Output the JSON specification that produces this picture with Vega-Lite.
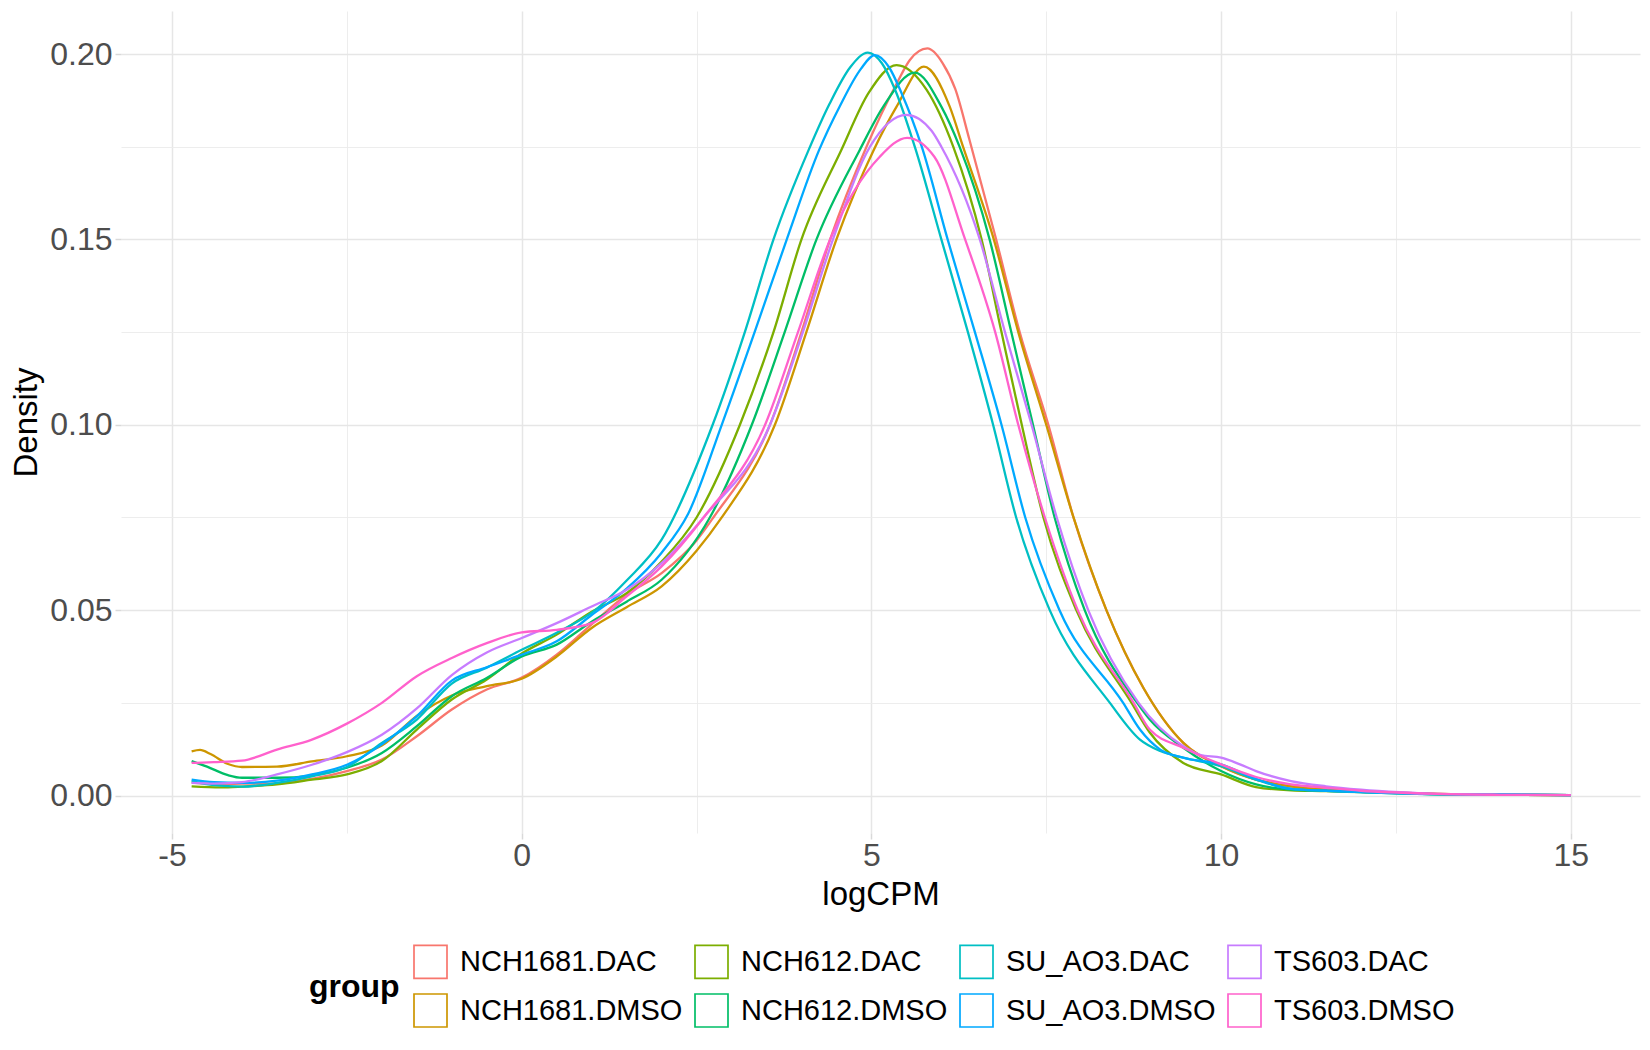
{
  "$schema": "https://vega.github.io/schema/vega-lite/v6.json",
  "width": 1519,
  "height": 822,
  "autosize": {"type": "none"},
  "padding": {"left": 121, "top": 11, "right": 10, "bottom": 217},
  "background": "white",
  "config": {"view": {"stroke": null}, "font": "Liberation Sans"},
  "datasets": {
    "curves": [
      {"g":"NCH1681.DAC","x":-4.72,"d":0.0035},{"g":"NCH1681.DAC","x":-4.3,"d":0.0031},{"g":"NCH1681.DAC","x":-4,"d":0.0032},{"g":"NCH1681.DAC","x":-3.5,"d":0.0033},{"g":"NCH1681.DAC","x":-3,"d":0.0045},{"g":"NCH1681.DAC","x":-2.5,"d":0.0066},{"g":"NCH1681.DAC","x":-2,"d":0.0097},{"g":"NCH1681.DAC","x":-1.5,"d":0.016},{"g":"NCH1681.DAC","x":-1,"d":0.0232},{"g":"NCH1681.DAC","x":-0.5,"d":0.0286},{"g":"NCH1681.DAC","x":0,"d":0.0318},{"g":"NCH1681.DAC","x":0.5,"d":0.038},{"g":"NCH1681.DAC","x":1,"d":0.0462},{"g":"NCH1681.DAC","x":1.5,"d":0.0542},{"g":"NCH1681.DAC","x":2,"d":0.06},{"g":"NCH1681.DAC","x":2.5,"d":0.0688},{"g":"NCH1681.DAC","x":2.74,"d":0.075},{"g":"NCH1681.DAC","x":3.55,"d":0.1},{"g":"NCH1681.DAC","x":4.0,"d":0.125},{"g":"NCH1681.DAC","x":4.41,"d":0.15},{"g":"NCH1681.DAC","x":4.93,"d":0.175},{"g":"NCH1681.DAC","x":5.36,"d":0.192},{"g":"NCH1681.DAC","x":5.55,"d":0.1984},{"g":"NCH1681.DAC","x":5.8,"d":0.2015},{"g":"NCH1681.DAC","x":6.02,"d":0.1975},{"g":"NCH1681.DAC","x":6.2,"d":0.1905},{"g":"NCH1681.DAC","x":6.4,"d":0.177},{"g":"NCH1681.DAC","x":6.77,"d":0.151},{"g":"NCH1681.DAC","x":7.12,"d":0.125},{"g":"NCH1681.DAC","x":7.53,"d":0.1},{"g":"NCH1681.DAC","x":7.89,"d":0.075},{"g":"NCH1681.DAC","x":8.36,"d":0.05},{"g":"NCH1681.DAC","x":8.89,"d":0.029},{"g":"NCH1681.DAC","x":9.46,"d":0.0142},{"g":"NCH1681.DAC","x":10,"d":0.0079},{"g":"NCH1681.DAC","x":10.5,"d":0.0043},{"g":"NCH1681.DAC","x":11,"d":0.0025},{"g":"NCH1681.DAC","x":11.5,"d":0.0016},{"g":"NCH1681.DAC","x":12,"d":0.0012},{"g":"NCH1681.DAC","x":12.5,"d":0.0008},{"g":"NCH1681.DAC","x":13,"d":0.0005},{"g":"NCH1681.DAC","x":14,"d":0.0002},{"g":"NCH1681.DAC","x":15,"d":0.0001},

      {"g":"NCH1681.DMSO","x":-4.72,"d":0.0119},{"g":"NCH1681.DMSO","x":-4.6,"d":0.0123},{"g":"NCH1681.DMSO","x":-4.45,"d":0.0112},{"g":"NCH1681.DMSO","x":-4.2,"d":0.0085},{"g":"NCH1681.DMSO","x":-4,"d":0.0077},{"g":"NCH1681.DMSO","x":-3.5,"d":0.0078},{"g":"NCH1681.DMSO","x":-3,"d":0.0092},{"g":"NCH1681.DMSO","x":-2.5,"d":0.0106},{"g":"NCH1681.DMSO","x":-2,"d":0.0135},{"g":"NCH1681.DMSO","x":-1.5,"d":0.0215},{"g":"NCH1681.DMSO","x":-1,"d":0.027},{"g":"NCH1681.DMSO","x":-0.5,"d":0.0295},{"g":"NCH1681.DMSO","x":0,"d":0.0315},{"g":"NCH1681.DMSO","x":0.5,"d":0.0375},{"g":"NCH1681.DMSO","x":1,"d":0.0452},{"g":"NCH1681.DMSO","x":1.5,"d":0.0508},{"g":"NCH1681.DMSO","x":2,"d":0.0564},{"g":"NCH1681.DMSO","x":2.5,"d":0.066},{"g":"NCH1681.DMSO","x":2.86,"d":0.075},{"g":"NCH1681.DMSO","x":3.62,"d":0.1},{"g":"NCH1681.DMSO","x":4.07,"d":0.125},{"g":"NCH1681.DMSO","x":4.5,"d":0.15},{"g":"NCH1681.DMSO","x":5.03,"d":0.174},{"g":"NCH1681.DMSO","x":5.36,"d":0.1858},{"g":"NCH1681.DMSO","x":5.75,"d":0.1966},{"g":"NCH1681.DMSO","x":6.12,"d":0.1858},{"g":"NCH1681.DMSO","x":6.31,"d":0.175},{"g":"NCH1681.DMSO","x":6.75,"d":0.15},{"g":"NCH1681.DMSO","x":7.1,"d":0.125},{"g":"NCH1681.DMSO","x":7.5,"d":0.1},{"g":"NCH1681.DMSO","x":7.89,"d":0.075},{"g":"NCH1681.DMSO","x":8.36,"d":0.05},{"g":"NCH1681.DMSO","x":8.89,"d":0.029},{"g":"NCH1681.DMSO","x":9.46,"d":0.0142},{"g":"NCH1681.DMSO","x":10,"d":0.0079},{"g":"NCH1681.DMSO","x":10.5,"d":0.0043},{"g":"NCH1681.DMSO","x":11,"d":0.0025},{"g":"NCH1681.DMSO","x":11.5,"d":0.0016},{"g":"NCH1681.DMSO","x":12,"d":0.0012},{"g":"NCH1681.DMSO","x":12.5,"d":0.0008},{"g":"NCH1681.DMSO","x":13,"d":0.0005},{"g":"NCH1681.DMSO","x":14,"d":0.0002},{"g":"NCH1681.DMSO","x":15,"d":0.0001},

      {"g":"NCH612.DAC","x":-4.72,"d":0.0025},{"g":"NCH612.DAC","x":-4.3,"d":0.0022},{"g":"NCH612.DAC","x":-4,"d":0.0024},{"g":"NCH612.DAC","x":-3.5,"d":0.003},{"g":"NCH612.DAC","x":-3,"d":0.0043},{"g":"NCH612.DAC","x":-2.5,"d":0.0057},{"g":"NCH612.DAC","x":-2,"d":0.0093},{"g":"NCH612.DAC","x":-1.5,"d":0.0178},{"g":"NCH612.DAC","x":-1,"d":0.0259},{"g":"NCH612.DAC","x":-0.5,"d":0.0313},{"g":"NCH612.DAC","x":0,"d":0.0383},{"g":"NCH612.DAC","x":0.5,"d":0.0434},{"g":"NCH612.DAC","x":1,"d":0.0496},{"g":"NCH612.DAC","x":1.5,"d":0.0546},{"g":"NCH612.DAC","x":2,"d":0.0631},{"g":"NCH612.DAC","x":2.5,"d":0.075},{"g":"NCH612.DAC","x":3.12,"d":0.1},{"g":"NCH612.DAC","x":3.6,"d":0.125},{"g":"NCH612.DAC","x":4.0,"d":0.15},{"g":"NCH612.DAC","x":4.57,"d":0.1741},{"g":"NCH612.DAC","x":4.96,"d":0.1895},{"g":"NCH612.DAC","x":5.36,"d":0.197},{"g":"NCH612.DAC","x":5.79,"d":0.1903},{"g":"NCH612.DAC","x":6.17,"d":0.175},{"g":"NCH612.DAC","x":6.575,"d":0.15},{"g":"NCH612.DAC","x":6.86,"d":0.125},{"g":"NCH612.DAC","x":7.15,"d":0.1},{"g":"NCH612.DAC","x":7.46,"d":0.075},{"g":"NCH612.DAC","x":7.93,"d":0.05},{"g":"NCH612.DAC","x":8.72,"d":0.025},{"g":"NCH612.DAC","x":8.98,"d":0.017},{"g":"NCH612.DAC","x":9.46,"d":0.0088},{"g":"NCH612.DAC","x":10,"d":0.0057},{"g":"NCH612.DAC","x":10.5,"d":0.0023},{"g":"NCH612.DAC","x":11,"d":0.0014},{"g":"NCH612.DAC","x":11.5,"d":0.0012},{"g":"NCH612.DAC","x":12,"d":0.0009},{"g":"NCH612.DAC","x":13,"d":0.0004},{"g":"NCH612.DAC","x":14,"d":0.0002},{"g":"NCH612.DAC","x":15,"d":0.0001},

      {"g":"NCH612.DMSO","x":-4.72,"d":0.0093},{"g":"NCH612.DMSO","x":-4.5,"d":0.0078},{"g":"NCH612.DMSO","x":-4.2,"d":0.0055},{"g":"NCH612.DMSO","x":-4,"d":0.0048},{"g":"NCH612.DMSO","x":-3.5,"d":0.0048},{"g":"NCH612.DMSO","x":-3,"d":0.0054},{"g":"NCH612.DMSO","x":-2.5,"d":0.0075},{"g":"NCH612.DMSO","x":-2,"d":0.0115},{"g":"NCH612.DMSO","x":-1.5,"d":0.0187},{"g":"NCH612.DMSO","x":-1,"d":0.0268},{"g":"NCH612.DMSO","x":-0.5,"d":0.0317},{"g":"NCH612.DMSO","x":0,"d":0.0375},{"g":"NCH612.DMSO","x":0.5,"d":0.0407},{"g":"NCH612.DMSO","x":1,"d":0.0469},{"g":"NCH612.DMSO","x":1.5,"d":0.0523},{"g":"NCH612.DMSO","x":2,"d":0.0582},{"g":"NCH612.DMSO","x":2.69,"d":0.075},{"g":"NCH612.DMSO","x":3.29,"d":0.1},{"g":"NCH612.DMSO","x":3.76,"d":0.125},{"g":"NCH612.DMSO","x":4.215,"d":0.15},{"g":"NCH612.DMSO","x":4.83,"d":0.174},{"g":"NCH612.DMSO","x":5.17,"d":0.1858},{"g":"NCH612.DMSO","x":5.62,"d":0.195},{"g":"NCH612.DMSO","x":6.0,"d":0.1858},{"g":"NCH612.DMSO","x":6.26,"d":0.175},{"g":"NCH612.DMSO","x":6.69,"d":0.15},{"g":"NCH612.DMSO","x":7.0,"d":0.125},{"g":"NCH612.DMSO","x":7.31,"d":0.1},{"g":"NCH612.DMSO","x":7.62,"d":0.075},{"g":"NCH612.DMSO","x":8.05,"d":0.05},{"g":"NCH612.DMSO","x":8.8,"d":0.025},{"g":"NCH612.DMSO","x":8.98,"d":0.0205},{"g":"NCH612.DMSO","x":9.46,"d":0.0129},{"g":"NCH612.DMSO","x":10,"d":0.0066},{"g":"NCH612.DMSO","x":10.5,"d":0.003},{"g":"NCH612.DMSO","x":11,"d":0.0016},{"g":"NCH612.DMSO","x":11.5,"d":0.0013},{"g":"NCH612.DMSO","x":12,"d":0.001},{"g":"NCH612.DMSO","x":13,"d":0.0004},{"g":"NCH612.DMSO","x":14,"d":0.0002},{"g":"NCH612.DMSO","x":15,"d":0.0001},

      {"g":"SU_AO3.DAC","x":-4.72,"d":0.0039},{"g":"SU_AO3.DAC","x":-4.4,"d":0.0028},{"g":"SU_AO3.DAC","x":-4,"d":0.0024},{"g":"SU_AO3.DAC","x":-3.5,"d":0.0034},{"g":"SU_AO3.DAC","x":-3,"d":0.0052},{"g":"SU_AO3.DAC","x":-2.5,"d":0.0077},{"g":"SU_AO3.DAC","x":-2,"d":0.0142},{"g":"SU_AO3.DAC","x":-1.5,"d":0.0205},{"g":"SU_AO3.DAC","x":-1,"d":0.0302},{"g":"SU_AO3.DAC","x":-0.5,"d":0.0345},{"g":"SU_AO3.DAC","x":0,"d":0.0393},{"g":"SU_AO3.DAC","x":0.5,"d":0.0439},{"g":"SU_AO3.DAC","x":1.05,"d":0.05},{"g":"SU_AO3.DAC","x":1.5,"d":0.058},{"g":"SU_AO3.DAC","x":2,"d":0.069},{"g":"SU_AO3.DAC","x":2.73,"d":0.1},{"g":"SU_AO3.DAC","x":3.19,"d":0.125},{"g":"SU_AO3.DAC","x":3.6,"d":0.15},{"g":"SU_AO3.DAC","x":4.1,"d":0.174},{"g":"SU_AO3.DAC","x":4.4,"d":0.1865},{"g":"SU_AO3.DAC","x":4.7,"d":0.1965},{"g":"SU_AO3.DAC","x":4.95,"d":0.2004},{"g":"SU_AO3.DAC","x":5.15,"d":0.1975},{"g":"SU_AO3.DAC","x":5.34,"d":0.1903},{"g":"SU_AO3.DAC","x":5.62,"d":0.175},{"g":"SU_AO3.DAC","x":6.0,"d":0.15},{"g":"SU_AO3.DAC","x":6.38,"d":0.125},{"g":"SU_AO3.DAC","x":6.74,"d":0.1},{"g":"SU_AO3.DAC","x":7.07,"d":0.075},{"g":"SU_AO3.DAC","x":7.55,"d":0.05},{"g":"SU_AO3.DAC","x":8.41,"d":0.025},{"g":"SU_AO3.DAC","x":8.84,"d":0.0151},{"g":"SU_AO3.DAC","x":9.13,"d":0.012},{"g":"SU_AO3.DAC","x":9.46,"d":0.0102},{"g":"SU_AO3.DAC","x":10,"d":0.0079},{"g":"SU_AO3.DAC","x":10.5,"d":0.0043},{"g":"SU_AO3.DAC","x":11,"d":0.0018},{"g":"SU_AO3.DAC","x":11.5,"d":0.0013},{"g":"SU_AO3.DAC","x":12,"d":0.0009},{"g":"SU_AO3.DAC","x":13,"d":0.0004},{"g":"SU_AO3.DAC","x":14,"d":0.0003},{"g":"SU_AO3.DAC","x":15,"d":0.0001},

      {"g":"SU_AO3.DMSO","x":-4.72,"d":0.0043},{"g":"SU_AO3.DMSO","x":-4.4,"d":0.0036},{"g":"SU_AO3.DMSO","x":-4,"d":0.0034},{"g":"SU_AO3.DMSO","x":-3.5,"d":0.004},{"g":"SU_AO3.DMSO","x":-3,"d":0.0057},{"g":"SU_AO3.DMSO","x":-2.5,"d":0.0083},{"g":"SU_AO3.DMSO","x":-2,"d":0.0138},{"g":"SU_AO3.DMSO","x":-1.5,"d":0.0214},{"g":"SU_AO3.DMSO","x":-1,"d":0.031},{"g":"SU_AO3.DMSO","x":-0.5,"d":0.0346},{"g":"SU_AO3.DMSO","x":0,"d":0.038},{"g":"SU_AO3.DMSO","x":0.5,"d":0.0416},{"g":"SU_AO3.DMSO","x":1,"d":0.0487},{"g":"SU_AO3.DMSO","x":1.5,"d":0.0558},{"g":"SU_AO3.DMSO","x":2,"d":0.0655},{"g":"SU_AO3.DMSO","x":2.38,"d":0.076},{"g":"SU_AO3.DMSO","x":2.86,"d":0.1},{"g":"SU_AO3.DMSO","x":3.33,"d":0.125},{"g":"SU_AO3.DMSO","x":3.79,"d":0.15},{"g":"SU_AO3.DMSO","x":4.25,"d":0.174},{"g":"SU_AO3.DMSO","x":4.55,"d":0.186},{"g":"SU_AO3.DMSO","x":4.85,"d":0.196},{"g":"SU_AO3.DMSO","x":5.05,"d":0.1997},{"g":"SU_AO3.DMSO","x":5.25,"d":0.1965},{"g":"SU_AO3.DMSO","x":5.43,"d":0.1895},{"g":"SU_AO3.DMSO","x":5.72,"d":0.175},{"g":"SU_AO3.DMSO","x":6.09,"d":0.15},{"g":"SU_AO3.DMSO","x":6.48,"d":0.125},{"g":"SU_AO3.DMSO","x":6.86,"d":0.1},{"g":"SU_AO3.DMSO","x":7.2,"d":0.075},{"g":"SU_AO3.DMSO","x":7.69,"d":0.05},{"g":"SU_AO3.DMSO","x":8.6,"d":0.025},{"g":"SU_AO3.DMSO","x":8.84,"d":0.0178},{"g":"SU_AO3.DMSO","x":9.13,"d":0.0124},{"g":"SU_AO3.DMSO","x":9.46,"d":0.0102},{"g":"SU_AO3.DMSO","x":10,"d":0.0084},{"g":"SU_AO3.DMSO","x":10.5,"d":0.0045},{"g":"SU_AO3.DMSO","x":11,"d":0.0018},{"g":"SU_AO3.DMSO","x":11.5,"d":0.0013},{"g":"SU_AO3.DMSO","x":12,"d":0.0009},{"g":"SU_AO3.DMSO","x":13,"d":0.0004},{"g":"SU_AO3.DMSO","x":14,"d":0.0003},{"g":"SU_AO3.DMSO","x":15,"d":0.0001},

      {"g":"TS603.DAC","x":-4.72,"d":0.0034},{"g":"TS603.DAC","x":-4.4,"d":0.0032},{"g":"TS603.DAC","x":-4,"d":0.0036},{"g":"TS603.DAC","x":-3.5,"d":0.0057},{"g":"TS603.DAC","x":-3,"d":0.0083},{"g":"TS603.DAC","x":-2.5,"d":0.0117},{"g":"TS603.DAC","x":-2,"d":0.0164},{"g":"TS603.DAC","x":-1.5,"d":0.0235},{"g":"TS603.DAC","x":-1,"d":0.0325},{"g":"TS603.DAC","x":-0.5,"d":0.0386},{"g":"TS603.DAC","x":0,"d":0.0425},{"g":"TS603.DAC","x":0.5,"d":0.0465},{"g":"TS603.DAC","x":1,"d":0.051},{"g":"TS603.DAC","x":1.5,"d":0.0555},{"g":"TS603.DAC","x":2,"d":0.0627},{"g":"TS603.DAC","x":2.6,"d":0.075},{"g":"TS603.DAC","x":3.55,"d":0.1},{"g":"TS603.DAC","x":4.02,"d":0.125},{"g":"TS603.DAC","x":4.45,"d":0.15},{"g":"TS603.DAC","x":4.98,"d":0.175},{"g":"TS603.DAC","x":5.5,"d":0.1836},{"g":"TS603.DAC","x":5.86,"d":0.1793},{"g":"TS603.DAC","x":6.0,"d":0.175},{"g":"TS603.DAC","x":6.55,"d":0.15},{"g":"TS603.DAC","x":6.91,"d":0.125},{"g":"TS603.DAC","x":7.29,"d":0.1},{"g":"TS603.DAC","x":7.65,"d":0.075},{"g":"TS603.DAC","x":8.1,"d":0.05},{"g":"TS603.DAC","x":8.82,"d":0.025},{"g":"TS603.DAC","x":9.46,"d":0.0133},{"g":"TS603.DAC","x":9.7,"d":0.011},{"g":"TS603.DAC","x":10,"d":0.0102},{"g":"TS603.DAC","x":10.27,"d":0.0084},{"g":"TS603.DAC","x":10.5,"d":0.0066},{"g":"TS603.DAC","x":11,"d":0.0039},{"g":"TS603.DAC","x":11.5,"d":0.0025},{"g":"TS603.DAC","x":12,"d":0.0016},{"g":"TS603.DAC","x":12.56,"d":0.0009},{"g":"TS603.DAC","x":13,"d":0.0005},{"g":"TS603.DAC","x":14,"d":0.0002},{"g":"TS603.DAC","x":15,"d":0.0001},

      {"g":"TS603.DMSO","x":-4.72,"d":0.0088},{"g":"TS603.DMSO","x":-4.4,"d":0.009},{"g":"TS603.DMSO","x":-4,"d":0.0094},{"g":"TS603.DMSO","x":-3.5,"d":0.0124},{"g":"TS603.DMSO","x":-3,"d":0.0151},{"g":"TS603.DMSO","x":-2.5,"d":0.0194},{"g":"TS603.DMSO","x":-2,"d":0.025},{"g":"TS603.DMSO","x":-1.5,"d":0.0322},{"g":"TS603.DMSO","x":-1,"d":0.0371},{"g":"TS603.DMSO","x":-0.5,"d":0.0411},{"g":"TS603.DMSO","x":0,"d":0.044},{"g":"TS603.DMSO","x":0.5,"d":0.0447},{"g":"TS603.DMSO","x":1,"d":0.0465},{"g":"TS603.DMSO","x":1.5,"d":0.0537},{"g":"TS603.DMSO","x":2,"d":0.0618},{"g":"TS603.DMSO","x":2.6,"d":0.075},{"g":"TS603.DMSO","x":3.48,"d":0.1},{"g":"TS603.DMSO","x":3.95,"d":0.125},{"g":"TS603.DMSO","x":4.41,"d":0.15},{"g":"TS603.DMSO","x":5.12,"d":0.1723},{"g":"TS603.DMSO","x":5.51,"d":0.1774},{"g":"TS603.DMSO","x":5.9,"d":0.1723},{"g":"TS603.DMSO","x":6.34,"d":0.15},{"g":"TS603.DMSO","x":6.77,"d":0.125},{"g":"TS603.DMSO","x":7.1,"d":0.1},{"g":"TS603.DMSO","x":7.48,"d":0.075},{"g":"TS603.DMSO","x":7.95,"d":0.05},{"g":"TS603.DMSO","x":8.75,"d":0.025},{"g":"TS603.DMSO","x":8.98,"d":0.0178},{"g":"TS603.DMSO","x":9.46,"d":0.0129},{"g":"TS603.DMSO","x":10,"d":0.0084},{"g":"TS603.DMSO","x":10.5,"d":0.005},{"g":"TS603.DMSO","x":11,"d":0.003},{"g":"TS603.DMSO","x":11.5,"d":0.0021},{"g":"TS603.DMSO","x":12,"d":0.0013},{"g":"TS603.DMSO","x":13,"d":0.0005},{"g":"TS603.DMSO","x":14,"d":0.0002},{"g":"TS603.DMSO","x":15,"d":0.0001}
    ]
  },
  "data": {"name": "curves"},
  "layer": [
    {
      "mark": {"type": "point", "opacity": 0},
      "encoding": {
        "x": {"field": "x", "type": "quantitative",
          "scale": {"domain": [-5.73, 15.99], "nice": false, "zero": false},
          "axis": {"orient": "top", "values": [-2.5, 2.5, 7.5, 12.5], "grid": true, "gridColor": "#EBEBEB", "gridWidth": 0.9,
                   "labels": false, "ticks": false, "domain": false, "title": null}},
        "y": {"field": "d", "type": "quantitative",
          "scale": {"domain": [-0.0101, 0.2116], "nice": false, "zero": false},
          "axis": {"orient": "right", "values": [0.025, 0.075, 0.125, 0.175], "grid": true, "gridColor": "#EBEBEB", "gridWidth": 0.9,
                   "labels": false, "ticks": false, "domain": false, "title": null}}
      }
    },
    {
      "mark": {"type": "line", "interpolate": "monotone", "strokeWidth": 2.3},
      "encoding": {
        "x": {"field": "x", "type": "quantitative",
          "scale": {"domain": [-5.73, 15.99], "nice": false, "zero": false},
          "axis": {"orient": "bottom", "values": [-5, 0, 5, 10, 15], "grid": true, "gridColor": "#E6E6E6", "gridWidth": 1.5,
                   "domain": false, "ticks": true, "tickSize": 6, "tickColor": "#D9D9D9", "tickWidth": 1.5,
                   "labelFont": "Liberation Sans", "labelFontSize": 32, "labelColor": "#4D4D4D", "labelPadding": 1,
                   "labelExpr": "datum.value < 0 ? '-' + abs(datum.value) : datum.label",
                   "title": "logCPM", "titleFont": "Liberation Sans", "titleFontSize": 33, "titleFontWeight": "normal", "titleColor": "black",
                   "titleBaseline": "alphabetic", "titleY": 71}},
        "y": {"field": "d", "type": "quantitative",
          "scale": {"domain": [-0.0101, 0.2116], "nice": false, "zero": false},
          "axis": {"orient": "left", "values": [0, 0.05, 0.1, 0.15, 0.2], "format": ".2f", "grid": true, "gridColor": "#E6E6E6", "gridWidth": 1.5,
                   "domain": false, "ticks": true, "tickSize": 6, "tickColor": "#D9D9D9", "tickWidth": 1.5,
                   "labelFont": "Liberation Sans", "labelFontSize": 32, "labelColor": "#4D4D4D", "labelPadding": 3,
                   "title": "Density", "titleFont": "Liberation Sans", "titleFontSize": 33, "titleFontWeight": "normal", "titleColor": "black",
                   "titleBaseline": "alphabetic", "titleAngle": -90, "titleX": -85, "titleY": 411, "titleAlign": "center"}},
        "color": {"field": "g", "type": "nominal",
          "scale": {"domain": ["NCH1681.DAC", "NCH612.DAC", "SU_AO3.DAC", "TS603.DAC", "NCH1681.DMSO", "NCH612.DMSO", "SU_AO3.DMSO", "TS603.DMSO"],
                    "range": ["#F8766D", "#7CAE00", "#00BFC4", "#C77CFF", "#CD9600", "#00BE67", "#00A9FF", "#FF61CC"]},
          "legend": {"orient": "none", "legendX": 188, "legendY": 933, "direction": "horizontal", "columns": 4,
                     "title": "group", "titleOrient": "left", "titleAnchor": "middle", "titleBaseline": "middle",
                     "titleFont": "Liberation Sans", "titleFontSize": 32, "titleFontWeight": "bold", "titleColor": "black", "titlePadding": 13,
                     "labelFont": "Liberation Sans", "labelFontSize": 29, "labelColor": "black", "labelOffset": 12, "labelLimit": 400,
                     "symbolType": "square", "symbolSize": 1089, "symbolStrokeWidth": 1.7, "symbolFillColor": "white",
                     "columnPadding": 8, "rowPadding": 8}}
      }
    }
  ],
  "resolve": {"axis": {"x": "independent", "y": "independent"}}
}
